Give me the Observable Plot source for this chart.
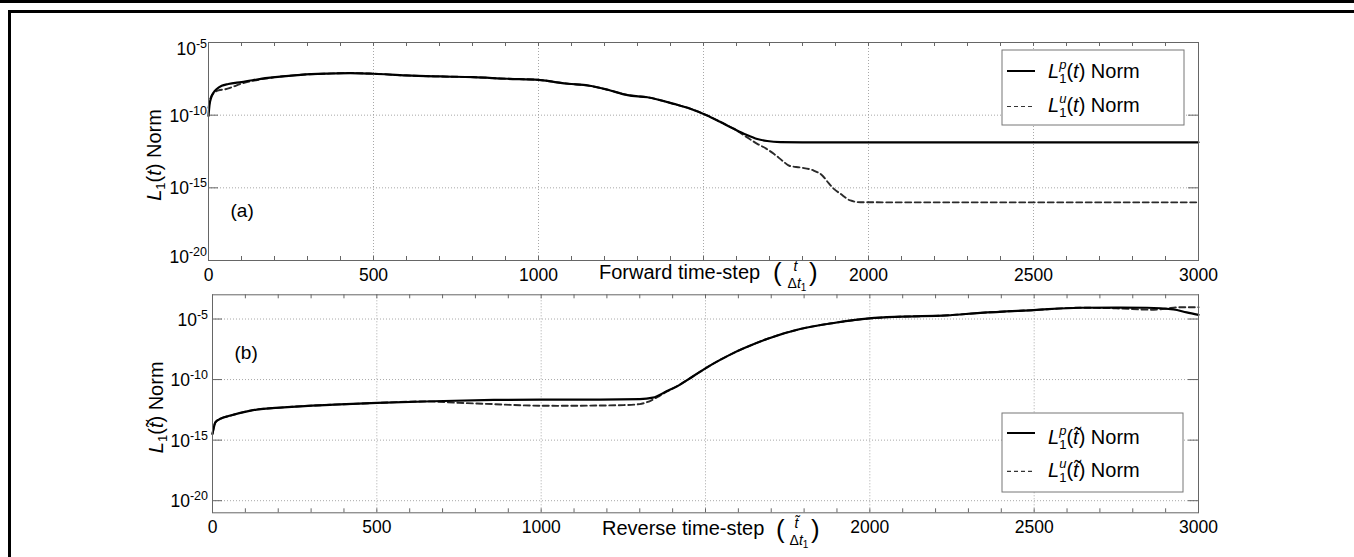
<!DOCTYPE html>
<html><head><meta charset="utf-8">
<script src="https://cdn.jsdelivr.net/npm/d3@7"></script>
<script src="https://cdn.jsdelivr.net/npm/@observablehq/plot@0.6"></script>
<style>
html,body{margin:0;padding:0;background:#fff;overflow:hidden;width:1354px;height:557px}
#frameTop{position:absolute;left:0;top:0;width:1354px;height:3px;background:#000}
#frameBox{position:absolute;left:8px;top:10px;width:1346px;height:547px;box-sizing:border-box;border-top:3px solid #000;border-left:3px solid #000}
#pa,#pb{position:absolute;left:0}
#pa{top:0}
#pb{top:277px}
</style></head><body>
<div id="frameTop"></div><div id="frameBox"></div>
<div id="pa"></div><div id="pb"></div>
<script>
// ---------- data ----------
// (a) forward run
const fwdStepsP = [0,3,8,15,25,40,60,100,180,280,360,430,500,600,703,803,905,1000,1050,1090,1150,1210,1270,1330,1410,1460,1511,1550,1592,1630,1663,1693,1733,1800,2000,2500,3000];
const fwdNormP  = [8.9e-11,5.0e-10,1.6e-9,3.5e-9,6.3e-9,1.05e-8,1.4e-8,1.9e-8,3.7e-8,6.0e-8,7.2e-8,7.9e-8,7.1e-8,5.4e-8,4.6e-8,4.1e-8,3.2e-8,2.7e-8,1.9e-8,1.45e-8,1.1e-8,5.6e-9,2.4e-9,1.7e-9,6.0e-10,2.8e-10,9.5e-11,3.5e-11,1.15e-11,4.5e-12,2.3e-12,1.66e-12,1.4e-12,1.36e-12,1.36e-12,1.36e-12,1.36e-12];
const fwdStepsU = [0,5,15,30,50,70,100,130,180,280,360,430,500,600,703,803,905,1000,1050,1090,1150,1210,1270,1330,1410,1460,1511,1550,1580,1600,1630,1663,1690,1713,1740,1760,1794,1834,1860,1880,1895,1915,1945,1976,2100,2500,3000];
const fwdNormU  = [3.2e-10,1.26e-9,3.2e-9,5.0e-9,6.0e-9,8.3e-9,1.5e-8,2.2e-8,3.5e-8,6.0e-8,7.2e-8,7.9e-8,7.1e-8,5.4e-8,4.6e-8,4.1e-8,3.2e-8,2.7e-8,1.9e-8,1.45e-8,1.1e-8,5.6e-9,2.4e-9,1.7e-9,6.0e-10,2.8e-10,9.5e-11,3.5e-11,1.6e-11,8.9e-12,3.2e-12,1.07e-12,5.0e-13,2.2e-13,7.1e-14,3.3e-14,2.5e-14,1.55e-14,7.1e-15,2.0e-15,8.5e-16,3.9e-16,1.35e-16,1.02e-16,1.0e-16,1.0e-16,1.0e-16];
// (b) reverse run
const revStepsP = [0,2,9,24,55,116,217,369,501,673,856,1000,1180,1300,1340,1383,1420,1449,1484,1520,1586,1640,1687,1788,1890,1999,2093,2235,2336,2499,2640,2750,2843,2924,2964,3000];
const revNormP  = [3.3e-15,6.3e-15,3.0e-14,5.8e-14,1.07e-13,2.75e-13,5.1e-13,8.5e-13,1.17e-12,1.62e-12,2.1e-12,2.24e-12,2.24e-12,2.4e-12,3.2e-12,1.12e-11,3.5e-11,1.1e-10,4.5e-10,1.8e-9,1.6e-8,7.1e-8,2.24e-7,1.5e-6,4.7e-6,1.12e-5,1.55e-5,2.0e-5,3.2e-5,5.5e-5,8.5e-5,8.7e-5,8.5e-5,6.2e-5,3.5e-5,2.2e-5];
const revStepsU = [0,2,9,24,55,116,217,369,501,650,750,850,950,1050,1150,1250,1300,1322,1353,1383,1420,1449,1484,1520,1586,1640,1687,1788,1890,1999,2093,2235,2336,2499,2640,2750,2853,2900,2940,3000];
const revNormU  = [3.3e-15,6.3e-15,3.0e-14,5.8e-14,1.07e-13,2.75e-13,5.1e-13,8.5e-13,1.17e-12,1.58e-12,1.2e-12,9.5e-13,7.4e-13,6.8e-13,7.1e-13,7.8e-13,9.5e-13,1.35e-12,3.5e-12,1.05e-11,3.5e-11,1.1e-10,4.5e-10,1.8e-9,1.6e-8,7.1e-8,2.24e-7,1.5e-6,4.7e-6,1.12e-5,1.55e-5,2.0e-5,3.2e-5,5.5e-5,8.5e-5,7.6e-5,5.9e-5,7.1e-5,9.5e-5,9.5e-5];

// ticks and labels
const xTickLabels = [0, 500, 1000, 2000, 2500, 3000];
const xGridSteps = [500, 1000, 1500, 2000, 2500];
const xMinorTicks = d3.range(0, 3001, 100);
const yTicksA = [1e-5, 1e-10, 1e-15, 1e-20];
const yExpA = ["-5", "-10", "-15", "-20"];
const yTicksB = [1e-5, 1e-10, 1e-15, 1e-20];
const yExpB = ["-5", "-10", "-15", "-20"];

const FONT = "'Liberation Sans', Arial, Helvetica, sans-serif";
const W = 1354;
const toRows = (s, v) => s.map((t, i) => ({t, v: v[i]}));

function txt(sel, x, y, size) {
  return sel.append("text").attr("x", x).attr("y", y).attr("font-size", size)
    .attr("font-family", FONT).attr("fill", "#000").attr("text-anchor", "start");
}

function buildPanel(cfg) {
  const fw = W - cfg.ml - cfg.mr, fh = cfg.h - cfg.mt - cfg.mb;
  const grid = {stroke: "#a8a8a8", strokeWidth: 1, strokeDasharray: "1,2"};
  const tk = {stroke: "#666", strokeWidth: 1};
  const plot = Plot.plot({
    width: W, height: cfg.h,
    marginLeft: cfg.ml, marginRight: cfg.mr, marginTop: cfg.mt, marginBottom: cfg.mb,
    style: `background: transparent; overflow: visible; font-family: ${FONT};`,
    x: {domain: [0, 3000], axis: null},
    y: {type: "log", domain: cfg.yDomain, axis: null},
    marks: [
      Plot.ruleX(xGridSteps, {x: d => d, ...grid}),
      Plot.ruleY(cfg.yGrid, {y: d => d, ...grid}),
      Plot.ruleX(xMinorTicks, {x: d => d, insetTop: fh - 4, ...tk}),
      Plot.ruleX(xMinorTicks, {x: d => d, insetBottom: fh - 4, ...tk}),
      Plot.ruleY(cfg.yTicks, {y: d => d, insetRight: fw - 10, ...tk}),
      Plot.ruleY(cfg.yTicks, {y: d => d, insetLeft: fw - 10, ...tk}),
      Plot.line(cfg.u, {x: "t", y: "v", stroke: "#2a2a2a", strokeWidth: 1.9, strokeDasharray: "6,3.5", curve: "monotone-x"}),
      Plot.line(cfg.p, {x: "t", y: "v", stroke: "#000", strokeWidth: 2.2, curve: "monotone-x"}),
      Plot.frame({stroke: "#666"}),
      Plot.text(xTickLabels, {x: d => d, frameAnchor: "bottom", lineAnchor: "bottom", dy: cfg.tickDy, text: d => String(d), fontSize: 17.5, fill: "#000"}),
      Plot.text([cfg.tag], {frameAnchor: "top-left", textAnchor: "start", lineAnchor: "bottom", dx: 22, dy: cfg.tagDy, text: d => d, fontSize: 19, fill: "#000"})
    ]
  });
  const svg = d3.select(plot);
  const ys = plot.scale("y");
  const top = cfg.mt, bottom = cfg.h - cfg.mb;
  // y tick labels 10^n
  cfg.yTicks.forEach((v, i) => {
    const y = ys.apply(v);
    const base = Math.max(top + 13, Math.min(bottom + 3, y + 7));
    const t = txt(svg, cfg.ml - cfg.yLabGap, base, 17.5).attr("text-anchor", "end");
    t.append("tspan").text("10");
    t.append("tspan").attr("font-size", 12.5).attr("dy", -7).text(cfg.yExp[i]);
  });
  // y axis title
  const cy = (top + bottom) / 2 + 4;
  const yl = svg.append("text").attr("transform", `translate(${cfg.yTitleX},${cy}) rotate(-90)`)
    .attr("text-anchor", "middle").attr("font-size", 20).attr("font-family", FONT).attr("fill", "#000");
  yl.append("tspan").attr("font-style", "italic").text("L");
  yl.append("tspan").attr("font-size", 13).attr("dy", 4).text("1");
  yl.append("tspan").attr("dy", -4).text("(");
  yl.append("tspan").attr("font-style", "italic").text(cfg.tvar);
  yl.append("tspan").text(") Norm");
  // x axis title with fraction
  const xt = cfg.xt;
  txt(svg, xt.x, xt.base, 20).text(cfg.xTitle);
  txt(svg, xt.lp, xt.pbase, 26).text("(");
  txt(svg, xt.rp, xt.pbase, 26).text(")");
  txt(svg, xt.num, xt.nbase, 14).attr("text-anchor", "middle").attr("font-style", "italic").text(cfg.tvar);
  const den = txt(svg, xt.den, xt.dbase, 14).attr("text-anchor", "middle");
  den.append("tspan").text("Δ");
  den.append("tspan").attr("font-style", "italic").text("t");
  den.append("tspan").attr("font-size", 10).attr("dy", 3).text("1");
  // legend
  const lg = cfg.legend;
  const g = svg.append("g");
  g.append("rect").attr("x", lg.x).attr("y", lg.y).attr("width", lg.w).attr("height", lg.h)
    .attr("fill", "#fff").attr("stroke", "#777").attr("stroke-width", 1);
  const rows = [{sup: "p", dash: null, sw: 2, col: "#000"}, {sup: "u", dash: "4,3", sw: 1.2, col: "#333"}];
  rows.forEach((r, i) => {
    const ly = lg.lines[i], tb = lg.bases[i];
    g.append("line").attr("x1", lg.x + 5).attr("x2", lg.x + 33).attr("y1", ly).attr("y2", ly)
      .attr("stroke", r.col).attr("stroke-width", r.sw).attr("stroke-dasharray", r.dash);
    const t = txt(g, lg.x + 46, tb, 20);
    t.append("tspan").attr("font-style", "italic").text("L");
    t.append("tspan").attr("font-size", 13).attr("font-style", "italic").attr("dy", -9).text(r.sup);
    t.append("tspan").attr("font-size", 13).attr("dx", -7.2).attr("dy", 14).text("1");
    t.append("tspan").attr("dy", -5).text("(");
    t.append("tspan").attr("font-style", "italic").text(cfg.tvar);
    t.append("tspan").text(") Norm");
  });
  return plot;
}

const pa = buildPanel({
  h: 290, ml: 208, mr: 156, mt: 42, mb: 30,
  yDomain: [1e-20, 1e-5], yTicks: yTicksA, yExp: yExpA, yGrid: [1e-10, 1e-15],
  p: toRows(fwdStepsP, fwdNormP), u: toRows(fwdStepsU, fwdNormU),
  tickDy: 20, tag: "(a)", tagDy: 174, yLabGap: 1, yTitleX: 161, tvar: "t",
  xTitle: "Forward time-step",
  xt: {x: 599, base: 279, lp: 773, rp: 809, pbase: 281, num: 795.5, nbase: 271, den: 797, dbase: 288},
  legend: {x: 1002, y: 50, w: 182, h: 75, lines: [71, 106.5], bases: [78, 112]}
});
document.getElementById("pa").appendChild(pa);

const pb = buildPanel({
  h: 280, ml: 212, mr: 156, mt: 17.3, mb: 44.7,
  yDomain: [1e-21, 1e-3], yTicks: yTicksB, yExp: yExpB, yGrid: [1e-5, 1e-10, 1e-15, 1e-20],
  p: toRows(revStepsP, revNormP), u: toRows(revStepsU, revNormU),
  tickDy: 20, tag: "(b)", tagDy: 63.7, yLabGap: 4, yTitleX: 163, tvar: "t\u0303",
  xTitle: "Reverse time-step",
  xt: {x: 602, base: 258, lp: 776, rp: 811, pbase: 261, num: 796.5, nbase: 251, den: 799, dbase: 268},
  legend: {x: 1002, y: 136, w: 181, h: 79, lines: [156, 194.3], bases: [167, 200]}
});
document.getElementById("pb").appendChild(pb);
</script></body></html>
